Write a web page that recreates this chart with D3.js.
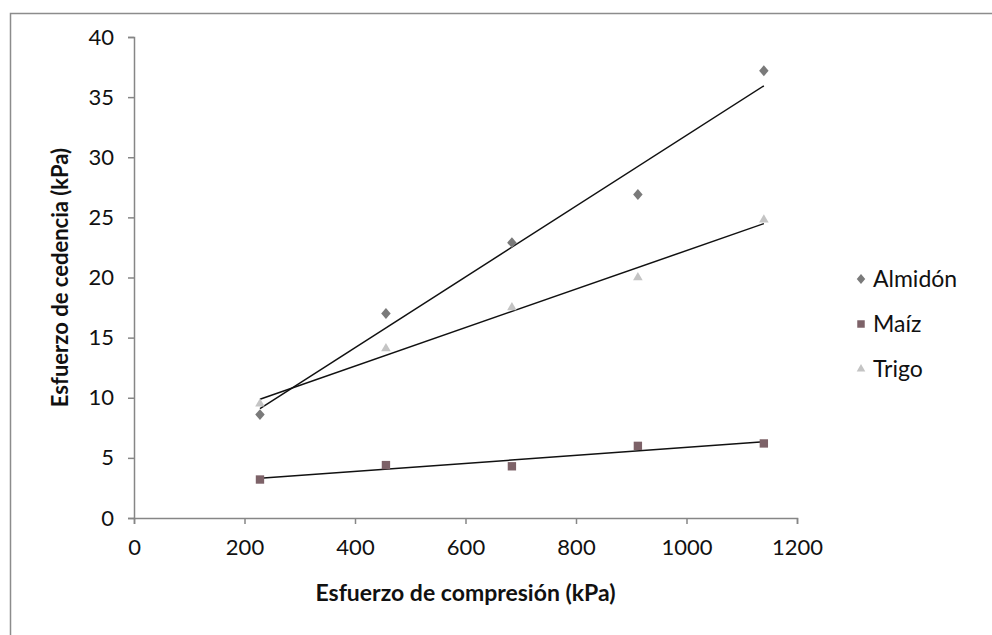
<!DOCTYPE html>
<html>
<head>
<meta charset="utf-8">
<script src="https://cdn.jsdelivr.net/npm/d3@7"></script>
<style>
    body { margin: 0; background: #fff; }
    text { font-family: Lato, "Open Sans", sans-serif; fill: #111; }
</style>
</head>
<body>
<div id="chartContainer"></div>
<script>
var compresion = [228, 456, 684, 912, 1140],
    almidon = [8.6, 17.0, 22.9, 26.9, 37.2],
    maiz = [3.2, 4.4, 4.3, 6.0, 6.2],
    trigo = [9.5, 14.1, 17.5, 20.0, 24.8],
    seriesNames = ['Almidón', 'Maíz', 'Trigo'],
    xTicks = [0, 200, 400, 600, 800, 1000, 1200],
    yTicks = [0, 5, 10, 15, 20, 25, 30, 35, 40];

var width = 992,
    height = 635,
    svg = d3.select('#chartContainer').append('svg')
        .attr('width', width)
        .attr('height', height),
    x = d3.scaleLinear().domain([0, 1200]).range([134, 797]),
    y = d3.scaleLinear().domain([0, 40]).range([518, 37]),
    diamond = {
        draw: function(ctx, size) {
            var r = Math.sqrt(size) / 2;
            ctx.moveTo(0, -r * 1.15);
            ctx.lineTo(r, 0);
            ctx.lineTo(0, r * 1.15);
            ctx.lineTo(-r, 0);
            ctx.closePath();
        }
    },
    series = [
        { name: seriesNames[0], values: almidon, shape: diamond, size: 90, color: '#7a7a7a' },
        { name: seriesNames[1], values: maiz, shape: d3.symbolSquare, size: 70, color: '#7d6268' },
        { name: seriesNames[2], values: trigo, shape: d3.symbolTriangle, size: 40, color: '#c4c4c4' }
    ];

// frame of the chart area
svg.append('rect')
    .attr('x', 10.5)
    .attr('y', 13.5)
    .attr('width', 1000)
    .attr('height', 700)
    .style('fill', 'none')
    .style('stroke', '#8c8c8c')
    .style('stroke-width', 1.5);

function fit(xs, ys) {
    var mx = d3.mean(xs), my = d3.mean(ys),
        sxy = 0, sxx = 0, i, slope;
    for (i = 0; i < xs.length; i++) {
        sxy += (xs[i] - mx) * (ys[i] - my);
        sxx += (xs[i] - mx) * (xs[i] - mx);
    }
    slope = sxy / sxx;
    return function(v) { return my + slope * (v - mx); };
}

// axes
var yAxis = svg.append('g')
    .attr('transform', 'translate(' + x(0) + ',0)')
    .call(d3.axisLeft(y).tickValues(yTicks).tickSize(6).tickPadding(14));
var xAxis = svg.append('g')
    .attr('transform', 'translate(0,' + y(0) + ')')
    .call(d3.axisBottom(x).tickValues(xTicks).tickFormat(d3.format('d'))
        .tickSize(6).tickPadding(15));

[xAxis, yAxis].forEach(function(a) {
    a.selectAll('path, line').style('stroke', '#868686').style('stroke-width', 1.5);
    a.selectAll('text').style('font-size', '22px').style('fill', '#111')
        .style('font-family', 'Lato, sans-serif');
});

// trend lines
series.forEach(function(s) {
    var f = fit(compresion, s.values),
        x0 = d3.min(compresion),
        x1 = d3.max(compresion);
    svg.append('line')
        .attr('x1', x(x0))
        .attr('y1', y(f(x0)))
        .attr('x2', x(x1))
        .attr('y2', y(f(x1)))
        .style('stroke', '#111')
        .style('stroke-width', 1.5);
});

// markers
series.forEach(function(s) {
    svg.append('g').selectAll('path')
        .data(s.values)
        .enter()
        .append('path')
        .attr('transform', function(d, i) {
            return 'translate(' + x(compresion[i]) + ',' + y(d) + ')';
        })
        .attr('d', d3.symbol().type(s.shape).size(s.size))
        .style('fill', s.color);
});

// legend
var legend = svg.append('g').selectAll('g')
    .data(series)
    .enter()
    .append('g')
    .attr('transform', function(d, i) { return 'translate(861,' + (279 + i * 45) + ')'; });
legend.append('path')
    .attr('d', function(d) { return d3.symbol().type(d.shape).size(d.size * 0.8)(); })
    .style('fill', function(d) { return d.color; });
legend.append('text')
    .attr('x', 12)
    .attr('dy', '0.35em')
    .style('font-size', '23px')
    .text(function(d) { return d.name; });

// axis titles
svg.append('text')
    .attr('x', (x(0) + x(1200)) / 2)
    .attr('y', 601)
    .attr('text-anchor', 'middle')
    .style('font-size', '23px')
    .style('font-weight', 'bold')
    .text('Esfuerzo de compresión (kPa)');
svg.append('text')
    .attr('transform', 'translate(68,' + ((y(0) + y(40)) / 2) + ') rotate(-90)')
    .attr('text-anchor', 'middle')
    .style('font-size', '22px')
    .style('font-weight', 'bold')
    .text('Esfuerzo de cedencia (kPa)');
</script>
</body>
</html>
